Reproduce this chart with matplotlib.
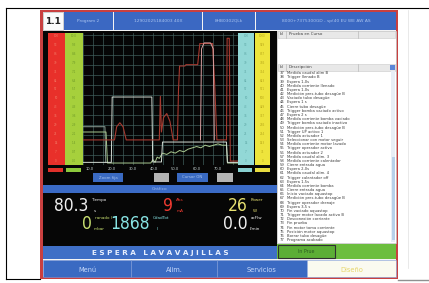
import numpy as np
import matplotlib; matplotlib.use("Agg")
import matplotlib.pyplot as plt
from matplotlib.patches import Rectangle
from matplotlib import font_manager

# ---- data ----
tabs = ["Program 2", "12902025184003 40X", "8HB0302QLk", "8000+7375300GD - sp(40 EU WE AW AS"]
menu = ["Menú", "Alim.", "Servicios", "Diseño"]
tick_vals = [10, 20, 30, 40, 50, 60, 70]

# traces (time s, level %)
abs_t = [6.7, 21.5, 22.5, 24, 25.5, 27, 42.5, 43, 43.5, 44.5, 46, 47.5, 49, 51, 51.5, 52, 54.5, 55, 60.5, 61.5, 67.5, 68.5, 69.5, 74, 74.3, 75.3, 75.8, 79.4]
abs_y = [19, 19, 29, 32, 29, 19, 19, 52, 25, 36, 39, 33, 19, 19, 57, 75, 75, 76, 76, 92, 92, 60, 19, 19, 96, 96, 3, 3]
pow_t = [61.8, 62.3, 63.5, 66.5, 67.8, 68.3]
pow_y = [19, 88, 92.5, 92.5, 88, 19]
tmp_t = [6.7, 20.0, 20.4, 39.0, 39.4, 43.5, 44.0, 74.0, 74.4, 79.4]
tmp_y = [2, 2, 51.5, 51.5, 2.3, 2.3, 17.4, 17.4, 2, 2]
flw_t = [6.7, 17.5, 18.2, 38.5, 39.5, 40.5, 41.5, 42.5, 44, 46, 48, 50, 52, 54, 56, 58, 60, 62, 64, 66, 68, 70, 72, 74, 74.5, 79.4]
flw_y = [25, 25, 1.5, 1.5, 4, 2, 6, 5, 9, 8, 10, 9, 11, 10, 12, 13, 14, 13, 15, 14, 15, 16, 15, 15, 1.5, 1.5]
prs_t = [6.7, 17.0, 17.4]
prs_y = [29, 29, 2]

readout_values = ["80.3", "9", "26", "0", "1868", "0.0"]
readout_names = ["Tiempo", "Abs", "Power", "ranado l", "CdadTot", "acFlw"]
readout_units = ["s", "mA", "W", "mbar", "l", "l/min"]

steps = ["Medida caudal alim B", "Trigger llenado B", "Espera 1,0s", "Medida corriente llenado",
         "Espera 1,0s", "Medición pres.tubo desagüe B", "Vaciado tubo desagüe", "Espera 1 s",
         "Cierre tubo desagüe", "Trigger bomba vaciado activo", "Espera 2 s",
         "Medida corriente bomba vaciado", "Trigger bomba vaciado inactivo",
         "Medición pres.tubo desagüe B", "Trigger UP activo 1", "Medida actuador 1",
         "Seleccionar con motor seguir", "Medida corriente motor lavado", "Trigger operador activo",
         "Medida actuador 2", "Medida caudal alim. 3", "Medida corriente calentador",
         "Cierre entrada agua", "Espera 2,0s", "Medida caudal alim. 4", "Trigger calentador off",
         "Espera 1,5s", "Medida corriente bomba", "Cierre entrada agua", "Inicio vaciado aquastop",
         "Medición pres.tubo desagüe B", "Trigger operador drenaje", "Espera 3,5 s",
         "Fin vaciado aquastop", "Trigger motor lavado activo B", "Desconexión corriente",
         "Fin prueba", "Fin motor toma corriente", "Posición motor aquastop",
         "Borrar tubo desagüe", "Programa acabado"]
step_ids = list(range(37, 37 + len(steps)))

# a narrow face for the big readout digits, if one is installed
cond = [f for f in font_manager.fontManager.ttflist
        if f.stretch in ("condensed", "semi-condensed", "extra-condensed", "ultra-condensed")
        and f.style == "normal" and f.weight in (300, 400, "light", "normal", "regular")]
if cond:
    DIG = dict(family=cond[0].name, stretch=cond[0].stretch); DSIZE = 12.5
else:
    DIG = dict(family="DejaVu Sans"); DSIZE = 10

W, H = 429, 283
fig = plt.figure(figsize=(W/100, H/100), dpi=100)
bg = fig.add_axes([0, 0, 1, 1]); bg.set_xlim(0, W); bg.set_ylim(H, 0); bg.axis("off")

def box(x0, y0, x1, y1, fc, ec="none", lw=0, z=1):
    bg.add_patch(Rectangle((x0, y0), x1-x0, y1-y0, fc=fc, ec=ec, lw=lw, zorder=z))
def txt(x, y, s, size, color, ha="center", va="center", **kw):
    bg.text(x, y, s, fontsize=size, color=color, ha=ha, va=va, zorder=5, **kw)

# outer page lines
bg.plot([6, W], [8, 8], color="k", lw=0.8)
bg.plot([6, 6], [8, 279], color="k", lw=0.8)
bg.plot([6, 40], [279, 279], color="k", lw=0.8)
bg.plot([398, W], [279.5, 279.5], color="#909090", lw=1.0)
bg.plot([408, 408], [10, 268], color="#e0e0e0", lw=0.5)

# red frame
box(40, 10, 398, 279, "#c94040")
box(43, 12, 396, 277, "#f4f4f4")

# header
box(43, 12, 63, 30, "#fafafa", ec="#b0b0b0", lw=0.4)
txt(53, 21.5, "1.1", 6.5, "#202020", weight="bold")
tab_x = [(64, 113), (114, 202), (203, 255), (256, 396)]
for (a, b), s in zip(tab_x, tabs):
    box(a, 12, b, 30, "#3b68c2")
    txt((a+b)/2, 21, s, 3.2, "#a9c3ef")

# black chart + display area
box(43, 31, 277, 246, "#060606")
box(48, 33, 64.5, 165, "#e8302a")
box(65, 33, 82.5, 165, "#a6d03c")
box(238, 33, 254, 165, "#92d8d6")
box(255, 33, 270, 165, "#eee43c")
for k, v in enumerate(np.linspace(100, 0, 15)):
    yy = 36 + k*8.9
    txt(56, yy, f"{v:.0f}", 2.0, "#f27a66")
    txt(74, yy, f"{v/10:.1f}", 2.0, "#6f9a28")
    txt(246, yy, f"{v:.0f}", 2.0, "#5fa8a6")
    txt(262.5, yy, f"{v*10:.0f}", 2.0, "#b8a818")
box(48, 168, 63, 172, "#e0302a"); box(66, 168, 81, 172, "#8cc83c")
box(238, 168, 252, 172, "#88d0d0"); box(255, 168, 270, 172, "#e8dc40")

# buttons under chart
for (a, b), fc, s in [((93, 123), "#3a6ac2", "Zoom fija"), ((154, 169), "#b4b4b4", ""),
                      ((177, 208), "#3a6ac2", "Cursor ON"), ((217, 233), "#b4b4b4", "")]:
    box(a, 173, b, 182, fc)
    if s:
        txt((a+b)/2, 177.5, s, 2.8, "#a8c4f0")

# chart
ax = fig.add_axes([83/W, 1-165/H, 155/W, 132/H])
ax.set_facecolor("#060606")
ax.set_xlim(6.72, 79.4); ax.set_ylim(0, 100)
ax.set_xticks(np.arange(6.86, 79.4, 4.69), minor=True)
ax.set_yticks(np.arange(0, 100, 7.58), minor=True)
ax.set_xticks(tick_vals, [f"{v:.1f}" for v in tick_vals])
ax.set_yticks([])
ax.grid(which="minor", color="#3f5d5a", lw=0.5)
ax.tick_params(which="both", length=0, labelsize=2.6, labelcolor="#c8d4d4", pad=1.2)
for s in ax.spines.values():
    s.set_visible(False)
ax.plot(prs_t, prs_y, color="#8c9c94", lw=0.7)
ax.plot(flw_t, flw_y, color="#a8c890", lw=0.7)
ax.plot(tmp_t, tmp_y, color="#d4dcd4", lw=0.7)
ax.plot(abs_t, abs_y, color="#a63a30", lw=0.8)
ax.plot(pow_t, pow_y, color="#d8a0a0", lw=0.7)

# Gráfico bar
box(43, 185, 277, 193, "#3b6bc6")
txt(160, 189, "Gráfico", 3.2, "#9ab8ea")

# readouts
rd_pos = [(88, 206), (173, 206), (248, 206), (92, 224), (150, 224), (248, 224)]
rd_col = ["#f0f0f0", "#ee3a30", "#e6e070", "#c8e070", "#88e4e4", "#f0f0f0"]
for (x, y), v, n, u, c in zip(rd_pos, readout_values, readout_names, readout_units, rd_col):
    txt(x, y, v, DSIZE, c, ha="right", **DIG)
    txt(x+3, y-6, n, 3.0, c, ha="left")
    txt(x+7, y+5, u, 3.0, c, ha="center")

# status bars
box(43, 246, 277, 259, "#3f6fc6")
txt(160, 252.5, " ".join("ESPERA") + "   " + " ".join("LAVAVAJILLAS"), 5.2, "#e8f0ff", weight="bold")
box(277, 244, 396, 259, "#6cbe3e")
box(278, 245, 335, 258, "#5cae36", ec="#303030", lw=0.8, z=2)
txt(306, 251.5, "In Prue", 3.4, "#2a5a20")

# bottom tabs
menu_x = [(43, 131), (131, 217), (217, 307), (307, 396)]
for i, ((a, b), s) in enumerate(zip(menu_x, menu)):
    last = i == len(menu) - 1
    box(a, 260, b, 277, "#fafaf0" if last else "#3a6ac2", ec="#7d9ad8", lw=0.4)
    txt((a+b)/2, 269.5, s, 4.8, "#e6d66a" if last else "#c6d8fa")

# right list panel
box(277, 31, 396, 243, "#ffffff", ec="#c0c0c0", lw=0.5)
for y0 in (31, 64):
    box(278, y0, 395, y0+6.5, "#e8e8e8", ec="#c8c8c8", lw=0.4, z=2)
    bg.plot([286, 286], [y0, y0+6.5], color="#b0b0b0", lw=0.4, zorder=3)
    bg.plot([358, 358], [y0, y0+6.5], color="#b0b0b0", lw=0.4, zorder=3)
txt(280, 34.3, "Id", 2.9, "#404040", ha="left")
txt(289, 34.3, "Prueba en Curso", 2.9, "#404040", ha="left")
txt(280, 67.3, "Id", 2.9, "#404040", ha="left")
txt(289, 67.3, "Descripción", 2.9, "#404040", ha="left")
box(390, 64.5, 395, 70, "#5b86d8", z=3)
box(391, 71, 395, 242, "#e8eef6", z=2)
box(391.5, 157, 394.5, 240, "#b8d0ea", z=3)
for k, (i, s) in enumerate(zip(step_ids, steps)):
    yy = 73.3 + k*4.17
    txt(280, yy, str(i), 2.7, "#3a3a3a", ha="left")
    txt(287, yy, s, 2.7, "#3a3a3a", ha="left")

fig.savefig("out.png", dpi=100)
